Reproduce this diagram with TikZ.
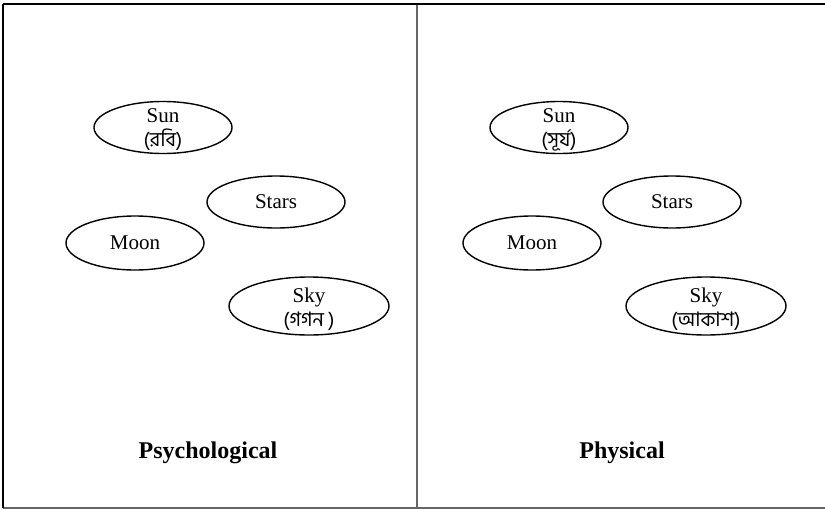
\documentclass[tikz,border=0pt]{standalone}
\usepackage{fontspec}
\setmainfont{Liberation Serif}
\newfontfamily\bnfont[Script=Bengali]{Hind Siliguri}
\usetikzlibrary{shapes.geometric}
\tikzset{
  oval/.style={ellipse, draw=black, line width=1.4pt, inner sep=0pt,
    minimum width=138pt, minimum height=52pt, align=center,
    font=\fontsize{21}{23}\selectfont},
  bigoval/.style={oval, minimum width=160pt, minimum height=58pt},
  ovaltext/.style={align=center, inner sep=0pt, font=\fontsize{21}{23}\selectfont},
  paneltitle/.style={font=\fontsize{24}{28}\selectfont\bfseries},
  frameline/.style={line width=2pt, black},
  grayline/.style={line width=1.5pt, black!60}
}
\newcommand{\bn}[1]{{\bnfont\fontsize{20}{23}\selectfont #1}}
\begin{document}
\begin{tikzpicture}[x=1pt,y=-1pt]
\useasboundingbox (0,0) rectangle (825,509);
% frame
\coordinate (tl) at (3,4);
\coordinate (tr) at (826,4);
\coordinate (bl) at (3,508);
\coordinate (br) at (826,508);
\coordinate (mt) at (417,4);
\coordinate (mb) at (417,508);
\draw[grayline] (bl) -- (br);
\draw[grayline] (mt) -- (mb);
\draw[frameline] (tl) -- (tr);
\draw[frameline] (tl) -- (bl);
% left panel
\node[oval] (lsun) at (163,127.5) {};
\node[ovaltext] (lsunt) at ([yshift=-2.5pt]lsun.center) {Sun\\[1pt]\bn{(রবি)}};
\node[oval] (lstars) at (276,202) {Stars};
\node[oval, minimum height=54pt] (lmoon) at (135,243) {Moon};
\node[bigoval] (lsky) at (309,306) {};
\node[ovaltext] (lskyt) at ([yshift=-3pt]lsky.center) {Sky\\[1pt]\bn{(গগন )}};
\node[paneltitle] (lpsy) at (208,453) {Psychological};
% right panel
\node[oval] (rsun) at (559,127.5) {};
\node[ovaltext] (rsunt) at ([yshift=-2.5pt]rsun.center) {Sun\\[1pt]\bn{(সূর্য)}};
\node[oval] (rstars) at (672,202) {Stars};
\node[oval, minimum height=54pt] (rmoon) at (532,243) {Moon};
\node[bigoval] (rsky) at (706,306) {};
\node[ovaltext] (rskyt) at ([yshift=-3pt]rsky.center) {Sky\\[1pt]\bn{(আকাশ)}};
\node[paneltitle] (rphy) at (622,453) {Physical};
\end{tikzpicture}
\end{document}
